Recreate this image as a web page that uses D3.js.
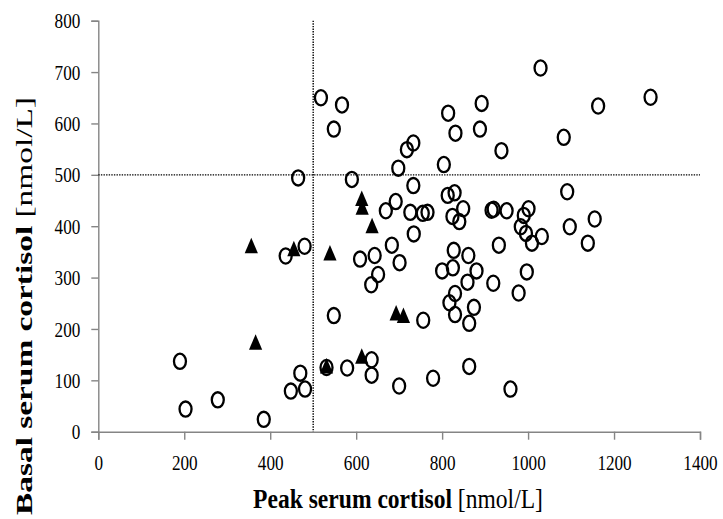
<!DOCTYPE html>
<html>
<head>
<meta charset="utf-8">
<script src="https://cdn.jsdelivr.net/npm/d3@7"></script>
<style>
  body { margin: 0; background: #fff; }
  svg { display: block; }
</style>
</head>
<body>
<svg></svg>
<script>
// ticks
const xTicks = [0, 200, 400, 600, 800, 1000, 1200, 1400]
const yTicks = [0, 100, 200, 300, 400, 500, 600, 700, 800]

// cut-off lines (nmol/L)
const peakCutoff = 500
const basalCutoff = 500

// open circles
const circlePeak = [190, 203, 278, 385, 448, 470, 481, 436, 480, 465, 518, 567, 548, 590, 548, 531, 579,
    609, 643, 651, 635, 636, 636, 700, 701, 669, 692, 726, 755, 766, 734, 683, 698, 718, 733, 733,
    756, 779, 804, 814, 831, 888, 892, 938, 813, 829, 824, 840, 849, 800, 825, 827, 861, 830, 817,
    830, 863, 874, 859, 880, 863, 959, 915, 920, 950, 1001, 990, 983, 995, 1009, 1032, 932, 919,
    997, 978, 1029, 1285, 1163, 1083, 1091, 1097, 1155, 1139]
const circleBasal = [137, 44, 62, 24, 79, 114, 83, 342, 361, 494, 650, 636, 589, 491, 226, 125, 124,
    336, 343, 306, 286, 140, 110, 89, 329, 430, 448, 427, 425, 427, 385, 363, 513, 549, 562, 479,
    217, 104, 520, 620, 581, 589, 639, 547, 460, 465, 419, 409, 434, 313, 319, 353, 343, 269, 251,
    228, 211, 242, 291, 313, 127, 83, 431, 433, 430, 434, 421, 399, 386, 367, 380, 363, 289,
    311, 270, 708, 651, 634, 573, 467, 399, 414, 367]

// filled triangles
const trianglePeak = [356, 366, 455, 539, 531, 613, 614, 637, 613, 693, 710]
const triangleBasal = [360, 172, 354, 346, 126, 452, 435, 399, 145, 229, 224]

const width = 723
const height = 519
const squeeze = 0.78

const svg = d3.select('svg')
    .attr('width', width)
    .attr('height', height)

const x = d3.scaleLinear().domain([0, 1400]).range([98.3, 700])
const y = d3.scaleLinear().domain([0, 800]).range([431.7, 20.7])

const font = '"Liberation Serif", "DejaVu Serif", serif'
const axisColor = '#858585'

// axes
const xAxis = svg.append('g')
    .attr('transform', `translate(0,${y(0)})`)
    .call(d3.axisBottom(x).tickValues(xTicks).tickSize(8).tickPadding(15).tickFormat(d3.format('d')))
const yAxis = svg.append('g')
    .attr('transform', `translate(${x(0)},0)`)
    .call(d3.axisLeft(y).tickValues(yTicks).tickSize(7).tickPadding(11).tickFormat(d3.format('d')))

for (const ax of [xAxis, yAxis]) {
    ax.select('.domain').attr('stroke', axisColor).attr('stroke-width', 1.4)
    ax.selectAll('.tick line').attr('stroke', axisColor).attr('stroke-width', 1.4)
    ax.selectAll('text')
        .attr('fill', '#000')
        .style('font-family', font)
        .style('font-size', '22px')
}
// squeezed look of the tick labels
xAxis.selectAll('.tick text').attr('transform', `scale(${squeeze},1)`)
yAxis.selectAll('.tick text')
    .attr('transform', `scale(${squeeze},1)`)
    .attr('x', -18 / squeeze)

// dotted reference lines
svg.append('line')
    .attr('x1', x(peakCutoff)).attr('x2', x(peakCutoff))
    .attr('y1', y(800)).attr('y2', y(0))
    .attr('stroke', '#000').attr('stroke-width', 1.4)
    .attr('stroke-dasharray', '1.4,1.2')
svg.append('line')
    .attr('x1', x(0)).attr('x2', x(1400))
    .attr('y1', y(basalCutoff)).attr('y2', y(basalCutoff))
    .attr('stroke', '#000').attr('stroke-width', 1.4)
    .attr('stroke-dasharray', '1.4,1.2')

// points
const circles = circlePeak.map((p, i) => ({ peak: p, basal: circleBasal[i] }))
const triangles = trianglePeak.map((p, i) => ({ peak: p, basal: triangleBasal[i] }))

svg.append('g').selectAll('ellipse')
    .data(circles)
    .enter().append('ellipse')
        .attr('cx', d => x(d.peak))
        .attr('cy', d => y(d.basal))
        .attr('rx', 6)
        .attr('ry', 7.6)
        .attr('fill', 'none')
        .attr('stroke', '#000')
        .attr('stroke-width', 2.3)

const tri = 'M0,-9 L6.6,6.5 L-6.6,6.5 Z'
svg.append('g').selectAll('path')
    .data(triangles)
    .enter().append('path')
        .attr('d', tri)
        .attr('transform', d => `translate(${x(d.peak)},${y(d.basal)})`)
        .attr('fill', '#000')

// axis titles
function fitLabel(text, target) {
    const len = text.node().getComputedTextLength()
    return target / len
}

const xLabel = svg.append('text')
    .style('font-family', font)
    .style('font-size', '27px')
    .attr('text-anchor', 'middle')
xLabel.append('tspan').attr('font-weight', 'bold').text('Peak serum cortisol')
xLabel.append('tspan').text(' [nmol/L]')
const kx = fitLabel(xLabel, 290)
xLabel.attr('transform', `translate(398,508) scale(${kx},1)`)

const yLabel = svg.append('text')
    .style('font-family', font)
    .style('font-size', '29px')
    .attr('text-anchor', 'middle')
yLabel.append('tspan').attr('font-weight', 'bold').text('Basal serum cortisol')
yLabel.append('tspan').text(' [nmol/L]')
const ky = fitLabel(yLabel, 418)
yLabel.attr('transform', `translate(32,306) rotate(-90) scale(${ky},${squeeze})`)
</script>
</body>
</html>
